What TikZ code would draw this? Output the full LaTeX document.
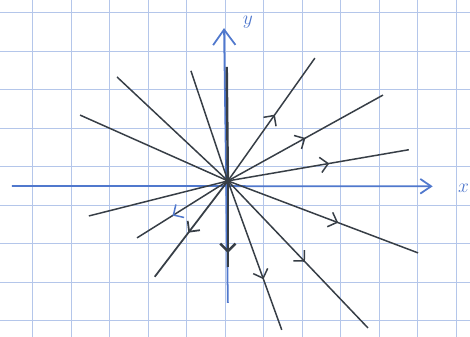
\documentclass[tikz,border=0pt]{standalone}
\usetikzlibrary{arrows.meta,decorations.markings}

\definecolor{paperblue}{RGB}{180,198,234}
\definecolor{penblue}{RGB}{80,120,205}
\definecolor{pencil}{RGB}{55,62,70}

\tikzset{
  gridline/.style={paperblue, line width=0.9pt},
  axis/.style={penblue, line width=1.3pt, -{Straight Barb[length=2.8mm,width=3.8mm]}},
  ray/.style={pencil, line width=1.1pt},
  midarrow/.style={postaction={decorate}, decoration={markings,
      mark=at position #1 with {\arrow{Straight Barb[length=2mm,width=4mm]}}}},
}

\begin{document}
\begin{tikzpicture}[scale=1]
    % Paper
    \useasboundingbox (-5.92,-4.03) rectangle (6.29,4.70);
    \clip (-5.92,-4.03) rectangle (6.29,4.70);
    \fill[white] (-5.92,-4.03) rectangle (6.29,4.70);
    \draw[gridline, xshift=-0.07cm, yshift=0.37cm] (-7,-6) grid (8,6);

    % Axes
    \coordinate (xl) at (-5.61,-0.13);
    \coordinate (xr) at (5.32,-0.14);
    \coordinate (yb) at (0,-3.17);
    \coordinate (yt) at (-0.10,3.97);
    \draw[axis] (xl) -- (xr);
    \draw[axis, -{Straight Barb[length=4mm,width=5.8mm]}] (yb) -- (yt);
    \node[penblue, font=\Large] (xlab) at (6.12,-0.18) {$x$};
    \node[penblue, font=\Large] (ylab) at (0.52,4.12) {$y$};

    % Origin and end points of the trajectories
    \coordinate (O) at (0,0);
    \coordinate (nw) at (-2.88,2.70);
    \coordinate (wnw) at (-3.84,1.71);
    \coordinate (nnw) at (-0.96,2.86);
    \coordinate (n) at (-0.03,2.96);
    \coordinate (nne) at (2.26,3.19);
    \coordinate (ne) at (4.03,2.23);
    \coordinate (ene) at (4.70,0.81);
    \coordinate (wsw) at (-3.61,-0.91);
    \coordinate (sw) at (-2.36,-1.48);
    \coordinate (ssw) at (-1.90,-2.49);
    \coordinate (s) at (0,-2.23);
    \coordinate (sse) at (1.40,-3.87);
    \coordinate (se) at (3.64,-3.82);
    \coordinate (ese) at (4.94,-1.87);

    % Trajectories leaving the node
    \draw[ray] (O) -- (nw);
    \draw[ray] (O) -- (wnw);
    \draw[ray] (O) -- (nnw);
    \draw[ray] (O) -- (wsw);
    \draw[ray, midarrow=0.54] (O) -- (nne);
    \draw[ray, midarrow=0.50] (O) -- (ne);
    \draw[ray, midarrow=0.56] (O) -- (ene);
    \draw[ray, midarrow=0.58] (O) -- (ese);
    \draw[ray, midarrow=0.55] (O) -- (se);
    \draw[ray, midarrow=0.66] (O) -- (sse);
    \draw[ray, line width=1.3pt, midarrow=0.54] (O) -- (ssw);
    \draw[ray, postaction={decorate}, decoration={markings,
      mark=at position 0.61 with {\arrow[penblue]{Straight Barb[length=2mm,width=4mm]}}}] (O) -- (sw);
    \draw[ray, line width=1.8pt] (n) -- (O);
    \draw[ray, line width=1.8pt, midarrow=0.84] (O) -- (s);
    \fill[pencil] (O) circle (0.07);

\end{tikzpicture}
\end{document}
